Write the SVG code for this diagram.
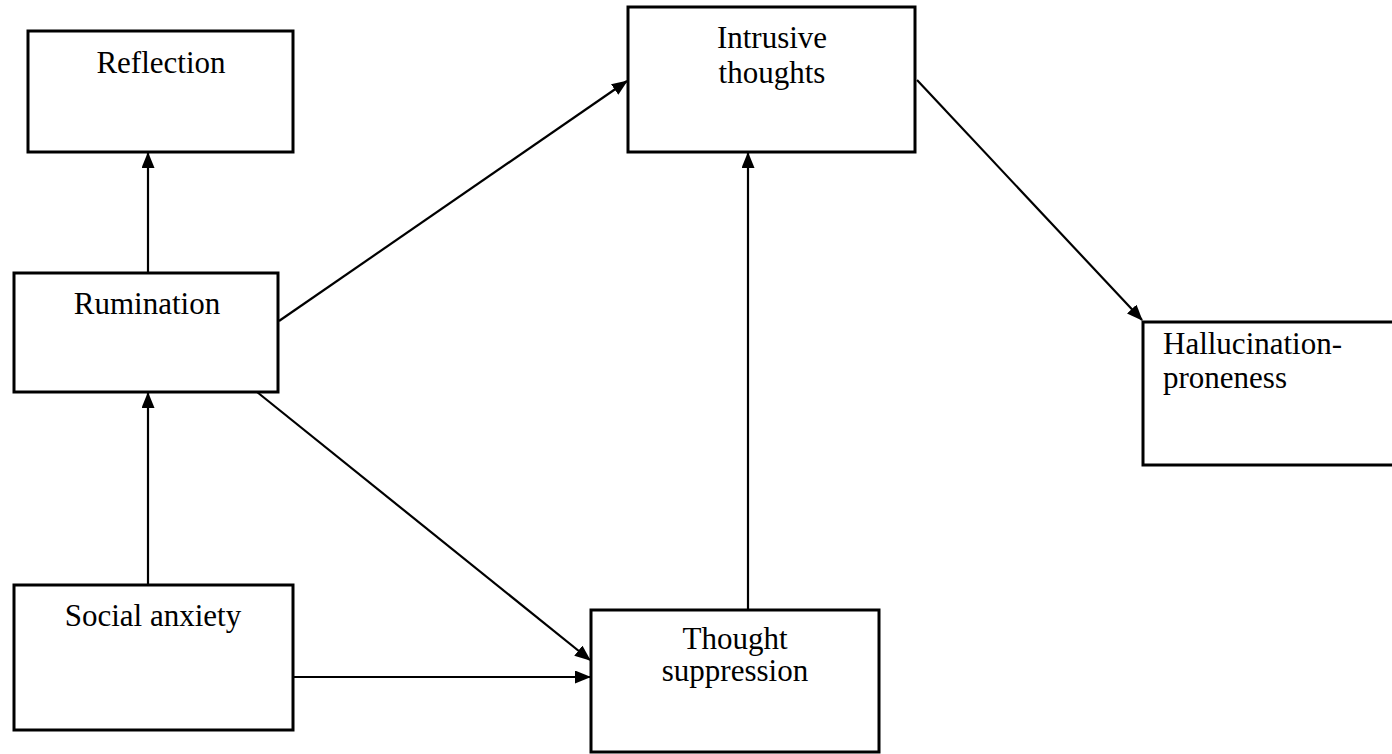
<svg xmlns="http://www.w3.org/2000/svg" width="1392" height="754" viewBox="0 0 1392 754">
<style>
.box{fill:#fff;stroke:#000;stroke-width:3}
.lbl{font-family:"Liberation Serif","Times New Roman",serif;font-size:31px;fill:#000}
.c{text-anchor:middle}
.edge{stroke:#000;stroke-width:2.2;fill:none;marker-end:url(#ah)}
</style>
<defs>
<marker id="ah" markerWidth="16" markerHeight="13" refX="15" refY="6.5" orient="auto" markerUnits="userSpaceOnUse" viewBox="0 0 16 13">
<path d="M0,0 L16,6.5 L0,13 z" fill="#000"/>
</marker>
</defs>
<rect width="1392" height="754" fill="#fff"/>
<g id="connectors">
<line class="edge" x1="148" y1="273" x2="148" y2="153"/>
<line class="edge" x1="148" y1="585" x2="148" y2="393"/>
<line class="edge" x1="279" y1="321" x2="627" y2="81"/>
<line class="edge" x1="257" y1="392" x2="590" y2="660"/>
<line class="edge" x1="293" y1="677" x2="590" y2="677"/>
<line class="edge" x1="748" y1="610" x2="748" y2="153"/>
<line class="edge" x1="917" y1="80" x2="1142" y2="320"/>
</g>
<g id="reflection">
<rect class="box" x="28" y="31" width="265" height="121"/>
<text class="lbl c" x="161" y="73">Reflection</text>
</g>
<g id="intrusive">
<rect class="box" x="628" y="7" width="287" height="145"/>
<text class="lbl c" x="772" y="48">Intrusive</text>
<text class="lbl c" x="772" y="83">thoughts</text>
</g>
<g id="hallucination">
<rect class="box" x="1143" y="322" width="260" height="143"/>
<text class="lbl" x="1163" y="354">Hallucination-</text>
<text class="lbl" x="1163" y="388">proneness</text>
</g>
<g id="rumination">
<rect class="box" x="14" y="273" width="264" height="119"/>
<text class="lbl c" x="147" y="314">Rumination</text>
</g>
<g id="social">
<rect class="box" x="14" y="585" width="279" height="145"/>
<text class="lbl c" x="153" y="626">Social anxiety</text>
</g>
<g id="suppression">
<rect class="box" x="591" y="610" width="288" height="142"/>
<text class="lbl c" x="735" y="649">Thought</text>
<text class="lbl c" x="735" y="681">suppression</text>
</g>
</svg>
